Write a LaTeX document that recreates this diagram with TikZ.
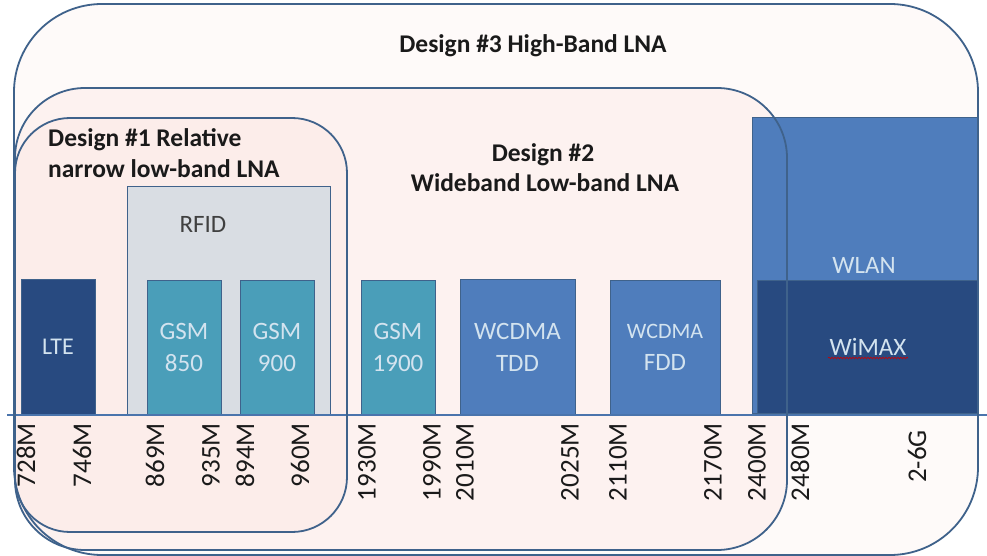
\documentclass[tikz,border=0pt]{standalone}
\usepackage{fontspec}
\setmainfont{Carlito}
\usetikzlibrary{decorations.pathmorphing}
\definecolor{edge}{HTML}{3F628B}
\definecolor{fillA}{HTML}{FEFAF9}
\definecolor{fillB}{HTML}{FDF2F0}
\definecolor{fillC}{HTML}{FCEDEA}
\definecolor{navy}{HTML}{284A80}
\definecolor{tealbar}{HTML}{4A9EB9}
\definecolor{blueA}{HTML}{4F7DBC}
\definecolor{rfidgray}{HTML}{D9DDE3}
\definecolor{bartext}{HTML}{D3E3EF}
\definecolor{axisblue}{HTML}{4A74AC}
\definecolor{txt}{HTML}{1A1A1A}
\begin{document}
\begin{tikzpicture}[x=1pt,y=-1pt,
  region/.style={rectangle, inner sep=0pt, outer sep=0pt, anchor=north west},
  bar/.style={rectangle, inner sep=0pt, outer sep=0pt, anchor=north west,
    draw=edge, line width=1pt, text=bartext, align=center,
    font=\fontsize{25}{32}\selectfont},
  title/.style={font=\bfseries\fontsize{25.5}{31}\selectfont, text=txt, inner sep=0pt, anchor=base},
  lbl/.style={rotate=90, anchor=east, inner sep=0pt, font=\fontsize{27}{30}\selectfont, text=txt},
  outline/.style={draw=edge, line width=1.8pt}]
\useasboundingbox (0,0) rectangle (987,556);
\fill[white] (0,0) rectangle (987,556);
% regions (fills)
\node[region, fill=fillA, rounded corners=88pt, minimum width=964pt, minimum height=551pt] (d3) at (14,4) {};
\node[region, fill=fillB, rounded corners=70pt, minimum width=772pt, minimum height=462pt] (d2) at (15,88) {};
\node[region, fill=fillC, rounded corners=55pt, minimum width=332pt, minimum height=414pt] (d1) at (15,118) {};
% bars
\node[bar, fill=navy, minimum width=74pt, minimum height=136pt, font=\fontsize{24}{28}\selectfont] (lte) at (21,279) {LTE};
\node[bar, fill=rfidgray, minimum width=203pt, minimum height=228pt] (rfid) at (127,187) {};
\node[bar, fill=tealbar, minimum width=74pt, minimum height=135pt] (g850) at (147,280) {GSM\\850};
\node[bar, fill=tealbar, minimum width=74pt, minimum height=135pt] (g900) at (240,280) {GSM\\900};
\node[bar, fill=tealbar, minimum width=74pt, minimum height=135pt] (g1900) at (361,280) {GSM\\1900};
\node[bar, fill=blueA, minimum width=115pt, minimum height=136pt] (tdd) at (460,279) {WCDMA\\TDD};
\node[bar, fill=blueA, minimum width=110pt, minimum height=135pt] (fdd) at (610,280) {{\fontsize{22}{28}\selectfont WCDMA}\\FDD};
\node[bar, fill=blueA, minimum width=226pt, minimum height=295pt] (wlan) at (752,118) {};
\node[bar, fill=navy, minimum width=221pt, minimum height=133pt] (wimax) at (757,280) {};
% texts in bars
\node[anchor=base, inner sep=0pt, font=\fontsize{25}{30}\selectfont, text=black!75] (rfidt) at (203,232) {RFID};
\node[anchor=base, inner sep=0pt, font=\fontsize{25}{30}\selectfont, text=bartext] (wlant) at (864,273) {WLAN};
\node[anchor=base, inner sep=0pt, font=\fontsize{25}{30}\selectfont, text=bartext] (wimaxt) at (868,355) {WiMAX};
\coordinate (wva) at (828,358);
\coordinate (wvb) at (908,358);
\draw[red!80!black, line width=0.6pt, decorate, decoration={snake, amplitude=0.8pt, segment length=3pt}] (wva) -- (wvb);
% axis
\coordinate (axL) at (7,415);
\coordinate (axR) at (987,415);
\draw[axisblue, line width=2pt] (axL) -- (axR);
% titles
\node[title] (t3) at (533,53) {Design \#3 High-Band LNA};
\node[title, anchor=base west] (t1a) at (48,147) {Design \#1 Relative};
\node[title, anchor=base west] (t1b) at (48,178) {narrow low-band LNA};
\node[title] (t2a) at (543,162) {Design \#2};
\node[title] (t2b) at (545,192) {Wideband Low-band LNA};
% axis labels
\node[lbl] (l728) at (26,423) {728M};
\node[lbl] (l746) at (82,423) {746M};
\node[lbl] (l869) at (155,423) {869M};
\node[lbl] (l935) at (211,423) {935M};
\node[lbl] (l894) at (245,423) {894M};
\node[lbl] (l960) at (300,423) {960M};
\node[lbl] (l1930) at (367,423) {1930M};
\node[lbl] (l1990) at (432,423) {1990M};
\node[lbl] (l2010) at (465,423) {2010M};
\node[lbl] (l2025) at (570,423) {2025M};
\node[lbl] (l2110) at (618,423) {2110M};
\node[lbl] (l2170) at (713,423) {2170M};
\node[lbl] (l2400) at (757,423) {2400M};
\node[lbl] (l2480) at (800,423) {2480M};
\node[lbl] (l26g) at (917,430) {2-6G};
% outlines on top
\draw[outline, rounded corners=88pt] (d3.north west) rectangle (d3.south east);
\draw[outline, rounded corners=70pt] (d2.north west) rectangle (d2.south east);
\draw[outline, rounded corners=55pt] (d1.north west) rectangle (d1.south east);
\end{tikzpicture}
\end{document}
